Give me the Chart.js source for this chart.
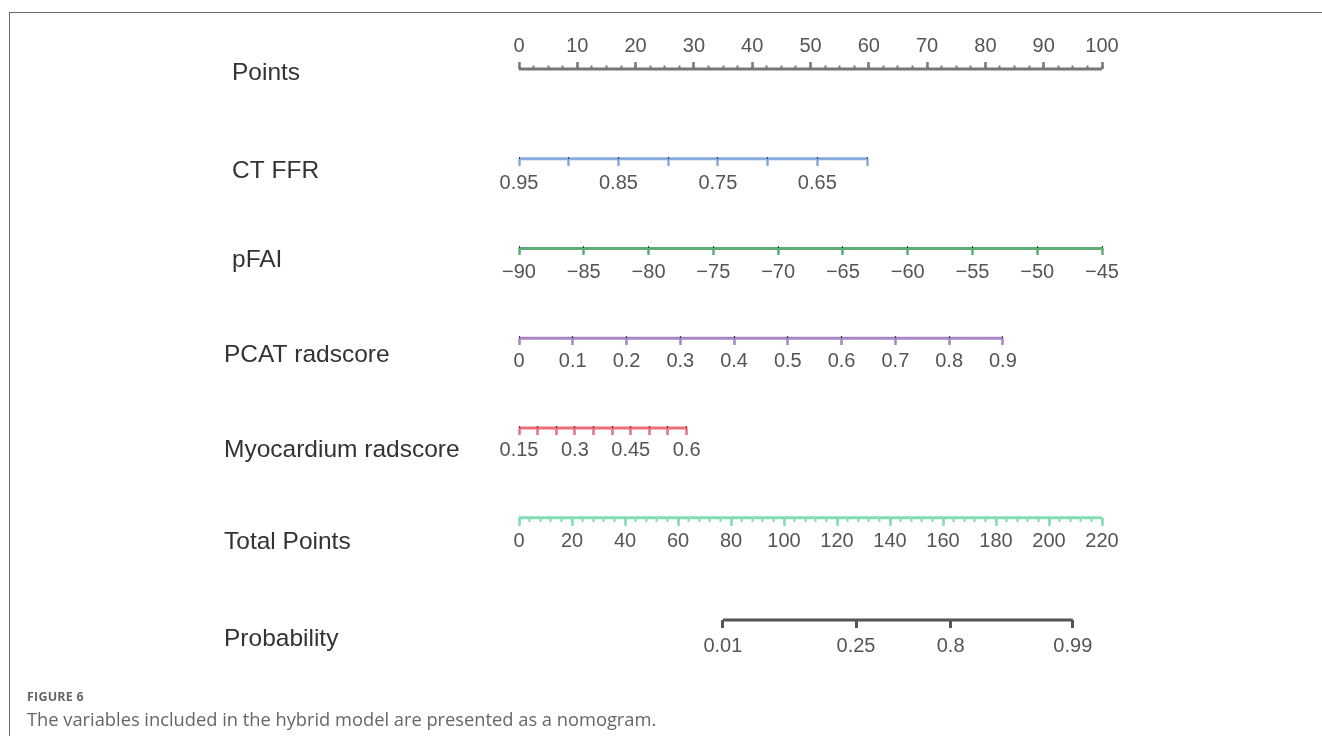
<!DOCTYPE html>
<html>
<head>
<meta charset="utf-8">
<title>Nomogram</title>
<script src="https://cdn.jsdelivr.net/npm/chart.js@4.4.1/dist/chart.umd.min.js"></script>
<style>
  html, body { margin: 0; padding: 0; background: #fff; }
  body { width: 1322px; height: 736px; position: relative; overflow: hidden; }
  #frame { position: absolute; left: 9px; top: 12px; right: 0; bottom: -4px;
           border-top: 1px solid #666; border-left: 1px solid #666; }
  #wrap { position: absolute; left: 0; top: 0; width: 1322px; height: 736px; }
  .fig { position: absolute; left: 27px; top: 688px; font: 700 12.5px 'Open Sans', sans-serif;
         color: #666; letter-spacing: 0.2px; }
  .cap { position: absolute; left: 27px; top: 706px; font: 400 18.3px 'Open Sans', sans-serif;
         color: #666; white-space: nowrap; }
</style>
</head>
<body>
<div id="frame"></div>
<div id="wrap"><canvas id="nomo"></canvas></div>
<div class="fig">FIGURE 6</div>
<div class="cap">The variables included in the hybrid model are presented as a nomogram.</div>
<script>
// ---- row titles (top to bottom) ----
const rowTitles = ['Points', 'CT FFR', 'pFAI', 'PCAT radscore', 'Myocardium radscore', 'Total Points', 'Probability'];

// ---- Points scale (0-100) ----
const pointsTicks  = [0, 10, 20, 30, 40, 50, 60, 70, 80, 90, 100];
const pointsLabels = ['0', '10', '20', '30', '40', '50', '60', '70', '80', '90', '100'];

// ---- CT FFR: tick values, labels, points at first / last tick ----
const ctffrTicks  = [0.95, 0.90, 0.85, 0.80, 0.75, 0.70, 0.65, 0.60];
const ctffrLabels = ['0.95', '', '0.85', '', '0.75', '', '0.65', ''];
const ctffrPoints = [0, 59.7];

// ---- pFAI (HU) ----
const pfaiTicks  = [-90, -85, -80, -75, -70, -65, -60, -55, -50, -45];
const pfaiLabels = ['\u221290', '\u221285', '\u221280', '\u221275', '\u221270',
                    '\u221265', '\u221260', '\u221255', '\u221250', '\u221245'];
const pfaiPoints = [0, 100];

// ---- PCAT radscore ----
const pcatTicks  = [0, 0.1, 0.2, 0.3, 0.4, 0.5, 0.6, 0.7, 0.8, 0.9];
const pcatLabels = ['0', '0.1', '0.2', '0.3', '0.4', '0.5', '0.6', '0.7', '0.8', '0.9'];
const pcatPoints = [0, 83.0];

// ---- Myocardium radscore ----
const myoTicks  = [0.15, 0.20, 0.25, 0.30, 0.35, 0.40, 0.45, 0.50, 0.55, 0.60];
const myoLabels = ['0.15', '', '', '0.3', '', '', '0.45', '', '', '0.6'];
const myoPoints = [0, 28.75];

// ---- Total points (0-220) ----
const totalTicks  = [0, 20, 40, 60, 80, 100, 120, 140, 160, 180, 200, 220];
const totalLabels = ['0', '20', '40', '60', '80', '100', '120', '140', '160', '180', '200', '220'];

// ---- Predicted probability ----
const probTicks  = [0.01, 0.25, 0.8, 0.99];
const probLabels = ['0.01', '0.25', '0.8', '0.99'];
const lpIntercept = -9.95;   // linear predictor at 0 total points
const lpSlope = 0.0696;      // linear predictor per total point

// ---- layout: vertical slot of each row line and of each title ----
const rowPos   = [0, 1, 2, 3, 4, 5, 6.14];
const titlePos = [0.045, 1.137, 2.128, 3.187, 4.246, 5.271, 6.352];
const indentedTitles = [true, true, true, false, false, false, false];

const colors = {
  points: '#777777', ctffr: '#88abdf', pfai: '#5fac74', pcat: '#a886c6',
  myo: '#ea6f7b', total: '#83dcb6', prob: '#555555'
};

const FONT = "'Liberation Sans', Arial, Helvetica, sans-serif";
Chart.defaults.font.family = FONT;

const logit = p => Math.log(p / (1 - p));
const stepList = (a, b, s) => { const out = []; for (let v = a; v <= b + 1e-9; v += s) out.push(+v.toFixed(6)); return out; };
const noPad = s => { s.paddingLeft = 0; s.paddingRight = 0; s.paddingTop = 0; s.paddingBottom = 0; };

// a horizontal axis sitting on a row; min/max chosen so the axis spans the full points range
function rowAxis({min, max, reverse = false, row, ticks, labels, color, tickLength = 7,
                  padding = 4, tickWidth = 2.5, z = 0}) {
  return {
    type: 'linear', axis: 'x', position: {y: row},
    min, max, reverse, bounds: 'data',
    afterBuildTicks: s => { s.ticks = ticks.map(v => ({value: v})); },
    afterFit: noPad,
    ticks: {
      display: !!labels, autoSkip: false, maxRotation: 0, minRotation: 0, padding,
      color: '#555', font: {size: 20},
      callback: (v, i) => labels ? labels[i] : ''
    },
    grid: {display: true, drawOnChartArea: false, drawTicks: true, tickLength, tickWidth,
           tickColor: color, z},
    border: {display: false}
  };
}

// the variable range [v0..v1] covers pts[0]..pts[1] points; extend it across 0..100 points
function variableRange(ticks, pts) {
  const v0 = ticks[0], v1 = ticks[ticks.length - 1];
  const perPoint = (v1 - v0) / (pts[1] - pts[0]);
  const atZero = v0 - pts[0] * perPoint;
  const atHundred = v0 + (100 - pts[0]) * perPoint;
  return {min: Math.min(atZero, atHundred), max: Math.max(atZero, atHundred), reverse: atZero > atHundred};
}

function variableAxis(ticks, labels, pts, row, color, padding) {
  return rowAxis(Object.assign(variableRange(ticks, pts), {row, ticks, labels, color, padding}));
}

// small dark notch on top of each tick, drawn over the row line
function notchAxis(range, ticks, row) {
  return rowAxis(Object.assign({}, range, {row, ticks, color: 'rgba(30,30,30,0.8)',
                                           tickLength: -2, tickWidth: 1.2, z: 1}));
}

function rowLine(axisId, first, last, row, color) {
  return {
    xAxisID: axisId, yAxisID: 'y',
    data: [{x: first, y: row}, {x: last, y: row}],
    borderColor: color, borderWidth: 3, borderCapStyle: 'butt',
    pointRadius: 0, pointHoverRadius: 0, clip: false, fill: false
  };
}

// title axes on the left: the narrow outer box writes its titles (mirrored, unclipped) from
// its own left edge; the inner box writes the indented titles from its left edge
function titleAxis(indented, width, weight) {
  return {
    type: 'linear', position: 'left', reverse: true, min: -0.5, max: 6.7, bounds: 'data', weight,
    afterBuildTicks: s => { s.ticks = titlePos.map(v => ({value: v})); },
    afterFit: s => { s.width = width; noPad(s); },
    ticks: {
      autoSkip: false,
      mirror: !indented, crossAlign: indented ? 'far' : 'near', padding: indented ? 0 : -width,
      color: '#333', font: {size: 24.5},
      callback: (v, i) => indentedTitles[i] === indented ? rowTitles[i] : ''
    },
    grid: {display: false}, border: {display: false}
  };
}

const lpMin = lpIntercept;
const lpMax = lpIntercept + lpSlope * 220;
const probValues = probTicks.map(logit);

const ctffrRange = variableRange(ctffrTicks, ctffrPoints);
const pfaiRange = variableRange(pfaiTicks, pfaiPoints);
const pcatRange = variableRange(pcatTicks, pcatPoints);
const myoRange = variableRange(myoTicks, myoPoints);

const scales = {
  yOuter: titleAxis(false, 8, 2),
  y: titleAxis(true, 287, 1),
  x: rowAxis({min: 0, max: 100, row: rowPos[0], ticks: pointsTicks, labels: pointsLabels,
              color: colors.points, tickLength: -7, padding: -28}),
  xMinor: rowAxis({min: 0, max: 100, row: rowPos[0], ticks: stepList(0, 100, 2.5),
                   color: colors.points, tickLength: -3.5, tickWidth: 2}),
  ctffr: variableAxis(ctffrTicks, ctffrLabels, ctffrPoints, rowPos[1], colors.ctffr, 6),
  ctffrNotch: notchAxis(ctffrRange, ctffrTicks, rowPos[1]),
  pfai: variableAxis(pfaiTicks, pfaiLabels, pfaiPoints, rowPos[2], colors.pfai, 5),
  pfaiNotch: notchAxis(pfaiRange, pfaiTicks, rowPos[2]),
  pcat: variableAxis(pcatTicks, pcatLabels, pcatPoints, rowPos[3], colors.pcat, 4.5),
  pcatNotch: notchAxis(pcatRange, pcatTicks, rowPos[3]),
  myo: variableAxis(myoTicks, myoLabels, myoPoints, rowPos[4], colors.myo, 4),
  myoNotch: notchAxis(myoRange, myoTicks, rowPos[4]),
  total: rowAxis({min: 0, max: 220, row: rowPos[5], ticks: totalTicks, labels: totalLabels,
                  color: colors.total, tickLength: 8}),
  totalMinor: rowAxis({min: 0, max: 220, row: rowPos[5], ticks: stepList(0, 220, 4),
                       color: colors.total, tickLength: 4, tickWidth: 2}),
  prob: rowAxis({min: lpMin, max: lpMax, row: rowPos[6], ticks: probValues, labels: probLabels,
                 color: colors.prob, tickLength: 8, tickWidth: 3, padding: 6})
};

const datasets = [
  rowLine('x', pointsTicks[0], pointsTicks[pointsTicks.length - 1], rowPos[0], colors.points),
  rowLine('ctffr', ctffrTicks[0], ctffrTicks[ctffrTicks.length - 1], rowPos[1], colors.ctffr),
  rowLine('pfai', pfaiTicks[0], pfaiTicks[pfaiTicks.length - 1], rowPos[2], colors.pfai),
  rowLine('pcat', pcatTicks[0], pcatTicks[pcatTicks.length - 1], rowPos[3], colors.pcat),
  rowLine('myo', myoTicks[0], myoTicks[myoTicks.length - 1], rowPos[4], colors.myo),
  rowLine('total', totalTicks[0], totalTicks[totalTicks.length - 1], rowPos[5], colors.total),
  rowLine('prob', probValues[0], probValues[probValues.length - 1], rowPos[6], colors.prob)
];

new Chart(document.getElementById('nomo'), {
  type: 'line',
  data: {datasets},
  options: {
    responsive: true, maintainAspectRatio: false, devicePixelRatio: 1, animation: false,
    layout: {autoPadding: false, padding: {left: 224, right: 220, top: 24.13, bottom: 65.75}},
    plugins: {legend: {display: false}, tooltip: {enabled: false}, title: {display: false}},
    events: [],
    scales
  }
});
</script>
</body>
</html>
